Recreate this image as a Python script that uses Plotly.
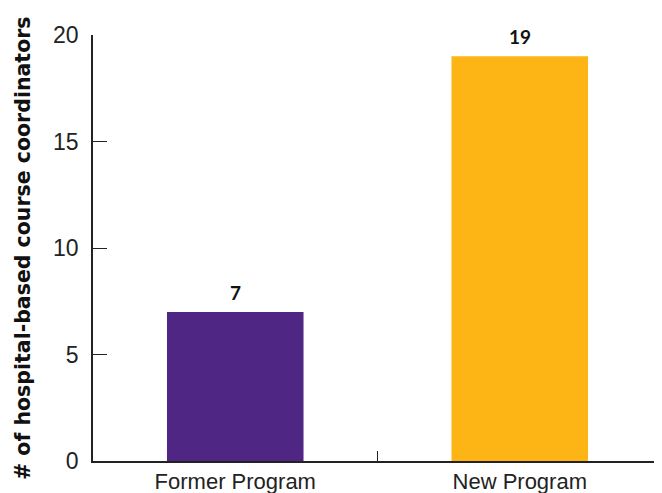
import plotly.graph_objects as go

programs = ["Former Program", "New Program"]
coordinators = [7, 19]
bar_colors = ["#4F2683", "#FDB515"]
y_title = "# of hospital-based course coordinators"

fig = go.Figure(go.Bar(
    x=programs, y=coordinators,
    marker=dict(color=bar_colors, line=dict(width=0)),
    width=0.48,
    hoverinfo="x+y",
))

# value labels above the bars
for prog, val in zip(programs, coordinators):
    fig.add_annotation(
        x=prog, y=val, text=str(val), showarrow=False,
        yanchor="bottom", yshift=6,
        font=dict(family="Lato, sans-serif", size=19, color="#111111", weight="bold"),
    )

# y title as an annotation so it can sit close to the left edge
fig.add_annotation(
    xref="paper", yref="paper", x=-0.123, y=0.5,
    text=y_title, textangle=-90, showarrow=False,
    xanchor="center", yanchor="middle",
    font=dict(family="DejaVu Sans, sans-serif", size=20.5, color="#111111", weight="bold"),
)

# the page body adds an 8px margin, so the figure is sized to fit the window
fig.update_layout(
    width=654, height=485,
    margin=dict(l=85, r=0, t=27, b=32),
    paper_bgcolor="white", plot_bgcolor="white",
    showlegend=False,
    font=dict(family="Liberation Sans, Arial, sans-serif", color="#222222"),
)
fig.update_xaxes(
    showline=True, linecolor="#222222", linewidth=1.5,
    ticks="inside", tickson="boundaries", ticklen=10, tickcolor="#222222",
    tickfont=dict(size=22), showgrid=False,
)
fig.update_yaxes(
    range=[0, 20], dtick=5,
    showline=True, linecolor="#222222", linewidth=1.5,
    ticks="inside", ticklen=14, tickcolor="#222222",
    tickfont=dict(size=23), ticklabelstandoff=8,
    showgrid=False, zeroline=False,
)

fig.write_html("out.html")
